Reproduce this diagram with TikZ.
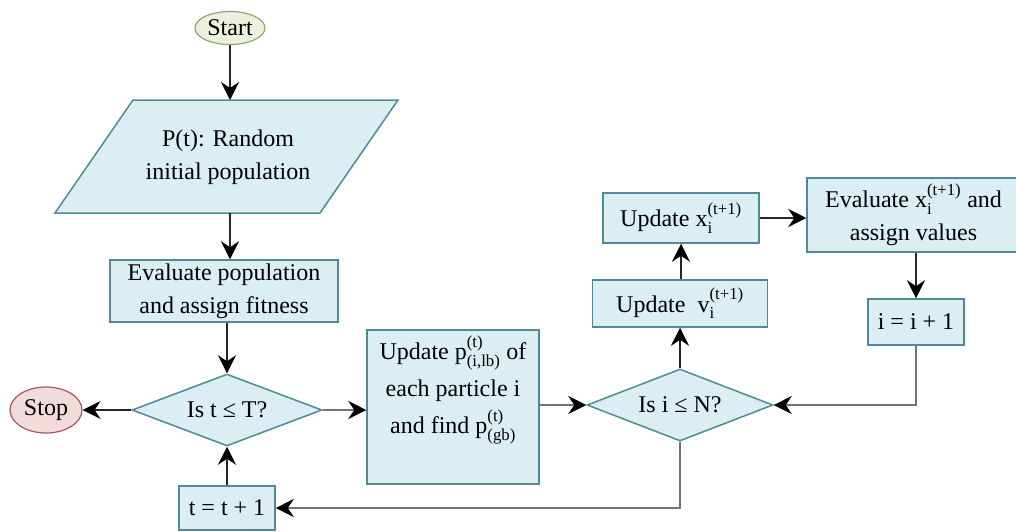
\documentclass[tikz,border=0pt]{standalone}
\usepackage{amsmath}
\usepackage{fontspec}
\setmainfont{Liberation Serif}
\newfontfamily\tnr{Liberation Serif}
\usetikzlibrary{shapes.geometric,arrows.meta}
\definecolor{boxfill}{HTML}{DAEEF3}
\definecolor{boxline}{HTML}{4F8A98}
\definecolor{startfill}{HTML}{EBF1DE}
\definecolor{startline}{HTML}{8FA873}
\definecolor{stopfill}{HTML}{F2DCDB}
\definecolor{stopline}{HTML}{A65957}
\newcommand\tx[1]{\text{\tnr #1}}
\begin{document}
\begin{tikzpicture}[x=1pt,y=-1pt,
  every node/.style={font=\tnr\fontsize{24}{33}\selectfont, inner sep=0pt, align=center},
  box/.style={draw=boxline, fill=boxfill, line width=1.5pt, rectangle},
  dia/.style={draw=boxline, fill=boxfill, line width=1.5pt, diamond},
  arr/.style={line width=1.6pt, draw=black!85, -{Stealth[length=18pt,width=18pt,inset=6pt,color=black]}},
  garr/.style={line width=1.6pt, draw=black!55, -{Stealth[length=18pt,width=18pt,inset=6pt,color=black]}},
  ]
\useasboundingbox (0,0) rectangle (1016,531);
% nodes
\node[ellipse, draw=startline, fill=startfill, line width=1.2pt, minimum width=70pt, minimum height=33pt] (start) at (230,28) {Start};
\draw[draw=boxline, fill=boxfill, line width=1.5pt] (55,213) -- (133,100) -- (398,100) -- (320,213) -- cycle;
\coordinate (popT) at (230,100);
\coordinate (popB) at (230,213);
\node (pop) at (228,157) {P(t): Random\\initial population};
\node[box, minimum width=228pt, minimum height=62pt] (eval) at (224,291) {Evaluate population\\and assign fitness};
\node[dia, minimum width=190pt, minimum height=72pt, shape aspect=2.6] (d1) at (227,410) {Is t ≤ T?};
\node[ellipse, draw=stopline, fill=stopfill, line width=1.2pt, minimum width=72pt, minimum height=46pt] (stop) at (46,410) {Stop};
\node[box, minimum width=96pt, minimum height=44pt] (tinc) at (227,508) {t = t + 1};
\node[box, minimum width=172pt, minimum height=154pt] (upd) at (453,407) {};
\node (updtxt) at (453,390) {Update $\tx{p}^{\tx{(t)}}_{\tx{(i,lb)}}$ of\\[4pt]each particle i\\[4pt]and find $\tx{p}^{\tx{(t)}}_{\tx{(gb)}}$};
\node[dia, minimum width=186pt, minimum height=72pt, shape aspect=2.6] (d2) at (680,405) {Is i ≤ N?};
\node[box, minimum width=175pt, minimum height=47pt] (updv) at (680,303.5) {Update\ \ $\tx{v}_{\tx{i}}^{\tx{(t+1)}}$};
\node[box, minimum width=156pt, minimum height=50pt] (updx) at (681,218) {Update $\tx{x}_{\tx{i}}^{\tx{(t+1)}}$};
\node[box, minimum width=213pt, minimum height=74pt] (evalx) at (913.5,215) {Evaluate $\tx{x}_{\tx{i}}^{\tx{(t+1)}}$ and\\assign values};
\node[box, minimum width=96pt, minimum height=46pt] (iinc) at (916,322) {i = i + 1};
% connectors
\draw[arr] (start) -- (popT);
\draw[arr] (popB) -- (popB |- eval.north);
\draw[arr] (eval.south -| d1.north) -- (d1.north);
\draw[arr] (d1.west) -- (stop.east);
\draw[garr] (d1.east) -- (d1.east -| upd.west);
\draw[garr] (upd.east |- d2.west) -- (d2.west);
\draw[arr] (d2.north) -- (d2.north |- updv.south);
\draw[arr] (updv.north -| updx.south) -- (updx.south);
\draw[arr] (updx.east) -- (updx.east -| evalx.west);
\draw[arr] (iinc.north |- evalx.south) -- (iinc.north);
\draw[garr] (iinc.south) |- (d2.east);
\draw[garr] (d2.south) |- (tinc.east);
\draw[arr] (tinc.north) -- (d1.south);
\end{tikzpicture}
\end{document}
